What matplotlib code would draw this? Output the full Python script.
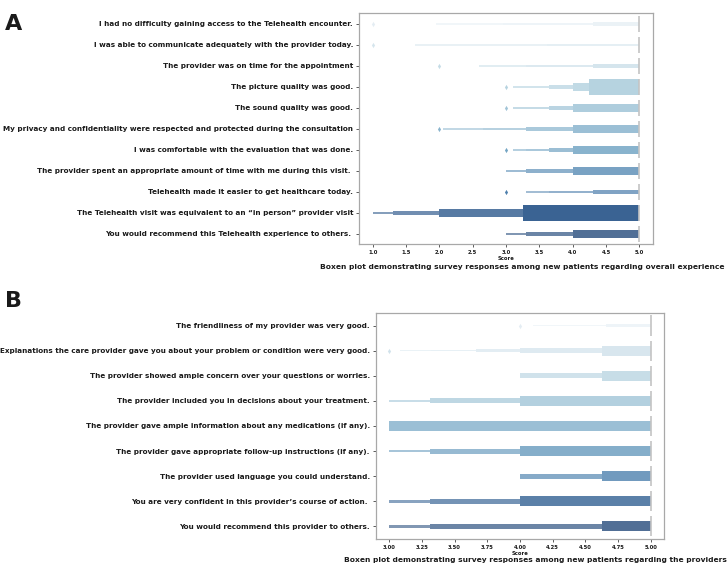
import numpy as np
import matplotlib
matplotlib.use("Agg")
import matplotlib.pyplot as plt
from matplotlib.colors import LinearSegmentedColormap

# Painel A - experiencia geral
a_labels = [
    "I had no difficulty gaining access to the Telehealth encounter.",
    "I was able to communicate adequately with the provider today.",
    "The provider was on time for the appointment",
    "The picture quality was good.",
    "The sound quality was good.",
    "My privacy and confidentiality were respected and protected during the consultation",
    "I was comfortable with the evaluation that was done.",
    "The provider spent an appropriate amount of time with me during this visit. ",
    "Telehealth made it easier to get healthcare today.",
    "The Telehealth visit was equivalent to an \u201cin person\u201d provider visit",
    "You would recommend this Telehealth experience to others. ",
]
# limite inferior de cada caixa (nivel 0 = caixa central); limite superior = 5
a_lower = [
    [5, 5, 4.3, 2.95, 1.95, 1.28],
    [5, 5, 5, 3.62, 1.63],
    [5, 5, 4.3, 3.3, 2.6, 2.05],
    [4.25, 4.0, 3.65, 3.1],
    [5, 4.0, 3.65, 3.1],
    [5, 4.0, 3.3, 2.65, 2.05],
    [5, 4.0, 3.65, 3.3, 3.1],
    [5, 4.0, 3.3, 3.0],
    [5, 5, 4.3, 3.65, 3.3, 3.1],
    [3.25, 2.0, 1.3, 1.0],
    [5, 4.0, 3.3, 3.0],
]
a_upper = [5.0] * 11
a_median = [5.0] * 11
a_outliers = [1.0, 1.0, 2.0, 3.0, 3.0, 2.0, 3.0, None, 3.0, None, None]
a_xticks = [1.0, 1.5, 2.0, 2.5, 3.0, 3.5, 4.0, 4.5, 5.0]

# Painel B - avaliacao dos provedores
b_labels = [
    "The friendliness of my provider was very good.",
    "Explanations the care provider gave you about your problem or condition were very good.",
    "The provider showed ample concern over your questions or worries.",
    "The provider included you in decisions about your treatment.",
    "The provider gave ample information about any medications (if any).",
    "The provider gave appropriate follow-up instructions (if any).",
    "The provider used language you could understand.",
    "You are very confident in this provider\u2019s course of action. ",
    "You would recommend this provider to others.",
]
b_lower = [
    [5, 5, 5, 4.66, 4.1],
    [5, 4.63, 4.0, 3.66, 3.32, 3.08],
    [5, 4.63, 4.0],
    [5, 4.0, 3.31, 3.0],
    [5, 3.0],
    [5, 4.0, 3.31, 3.0],
    [5, 4.63, 4.0],
    [5, 4.0, 3.31, 3.0],
    [5, 4.63, 3.31, 3.0],
]
b_upper = [5.0] * 9
b_median = [5.0] * 9
b_outliers = [4.0, 3.0, None, None, None, None, None, None, None]
b_xticks = [3.0, 3.25, 3.5, 3.75, 4.0, 4.25, 4.5, 4.75, 5.0]

txt = "#1a1a1a"
spine_cor = "#a8a8a8"
paleta = LinearSegmentedColormap.from_list("azuis", [
    (0.0, "#e4edf3"), (0.3, "#b6d3e0"), (0.6, "#74a5c4"),
    (0.8, "#4f80ad"), (0.9, "#3a6393"), (1.0, "#325684")])


def desenhar(ax, labels, lower, upper, median, outliers, xticks, xlim):
    n = len(labels)
    for i in range(n):
        base = np.array(paleta(i / (n - 1))[:3])
        for j, esq in enumerate(lower[i]):
            frac = 1 - 0.85 ** j
            c = base + (1 - base) * frac
            h = 0.8 * 0.5 ** j
            # caixas externas ficam por baixo das internas
            ax.barh(i, upper[i] - esq, left=esq, height=h, color=c,
                    linewidth=0, zorder=3 - j * 0.1)
        ax.vlines(median[i], i - 0.4, i + 0.4, color="#c4c4c4", lw=1.2, zorder=4)
        if outliers[i] is not None:
            ax.scatter([outliers[i]], [i], marker="d", s=7,
                       color=base, linewidths=0, zorder=4)
    ax.set_ylim(n - 0.5, -0.5)
    ax.set_xlim(*xlim)
    ax.set_yticks(range(n))
    ax.set_yticklabels(labels, fontsize=5.2, fontweight="bold", color=txt)
    ax.set_xticks(xticks)
    ax.tick_params(axis="x", labelsize=3.8, length=2, width=0.5, color=txt, pad=2)
    ax.tick_params(axis="y", length=2.5, width=0.5, color=txt, pad=2)
    for lab in ax.get_xticklabels():
        lab.set_fontweight("bold")
        lab.set_color(txt)
    ax.set_xlabel("Score", fontsize=3.8, fontweight="bold", color=txt, labelpad=1)
    for s in ax.spines.values():
        s.set_color(spine_cor)
        s.set_linewidth(0.9)


fig = plt.figure(figsize=(7.28, 5.67), dpi=100)
ax_a = fig.add_axes([0.4936, 0.5688, 0.4030, 0.4074])
ax_b = fig.add_axes([0.5165, 0.0494, 0.3956, 0.3986])

desenhar(ax_a, a_labels, a_lower, a_upper, a_median, a_outliers, a_xticks, (0.8, 5.2))
desenhar(ax_b, b_labels, b_lower, b_upper, b_median, b_outliers, b_xticks, (2.9, 5.1))

fig.text(0.007, 0.975, "A", fontsize=16, fontweight="bold", color=txt, va="top")
fig.text(0.007, 0.487, "B", fontsize=16, fontweight="bold", color=txt, va="top")
fig.text(0.718, 1 - 267 / 567, "Boxen plot demonstrating survey responses among new patients regarding overall experience",
         fontsize=5.4, fontweight="bold", color=txt, ha="center", va="center")
fig.text(0.736, 1 - 560 / 567, "Boxen plot demonstrating survey responses among new patients regarding the providers",
         fontsize=5.4, fontweight="bold", color=txt, ha="center", va="center")

fig.savefig("out.png", dpi=100)
